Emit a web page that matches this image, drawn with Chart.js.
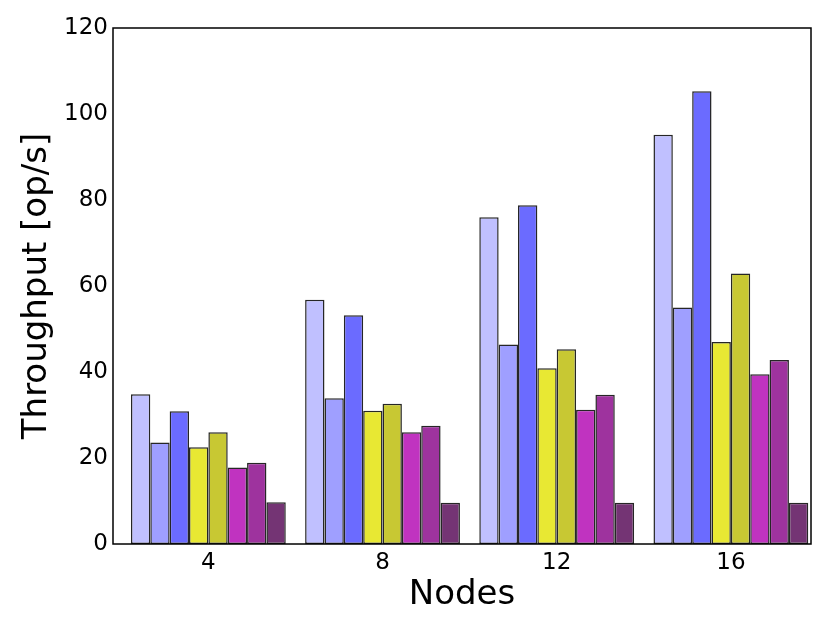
<!DOCTYPE html>
<html>
<head>
<meta charset="utf-8">
<script src="https://cdn.jsdelivr.net/npm/chart.js@4"></script>
<style>
  html, body { margin: 0; padding: 0; background: #fff; }
  #wrap { width: 830px; height: 623px; }
</style>
</head>
<body>
<div id="wrap"><canvas id="chart" width="830" height="623"></canvas></div>
<script>
// ── Data ────────────────────────────────────────────────────────────────────

const nodes = [4, 8, 12, 16];
const nodeLabels = ['4', '8', '12', '16'];
const yTicks = [0, 20, 40, 60, 80, 100, 120];

const series1 = [34.8, 56.8, 76, 95.2];
const series2 = [23.6, 33.9, 46.4, 55];
const series3 = [30.9, 53.2, 78.8, 105.3];
const series4 = [22.5, 31, 40.9, 47];
const series5 = [26, 32.6, 45.3, 62.9];
const series6 = [17.8, 26, 31.2, 39.5];
const series7 = [18.9, 27.5, 34.7, 42.8];
const series8 = [9.7, 9.6, 9.6, 9.6];

const seriesValues = [series1, series2, series3, series4, series5, series6, series7, series8];
const seriesColors = ['#c0c0ff', '#9f9fff', '#6b6bff', '#e8e833', '#c8c833', '#c033c0', '#9e339e', '#743474'];

// ── Frame around the plot area ──────────────────────────────────────────────

const framePlugin = {
  id: 'frame',
  afterDraw(c) {
    const { ctx, chartArea: a } = c;
    ctx.save();
    ctx.strokeStyle = '#000';
    ctx.lineWidth = 1.5;
    ctx.strokeRect(a.left, a.top, a.right - a.left, a.bottom - a.top);
    ctx.restore();
  }
};

// ── Chart ───────────────────────────────────────────────────────────────────

const datasets = seriesValues.map((vals, i) => ({
  label: 'S' + (i + 1),
  data: vals.map((v, j) => ({ x: nodes[j], y: v })),
  backgroundColor: seriesColors[i],
  borderColor: '#262626',
  borderWidth: 1.5,
  borderSkipped: false,
  categoryPercentage: 8 / 9,
  barPercentage: 1,
}));

new Chart(document.getElementById('chart'), {
  type: 'bar',
  data: { datasets },
  plugins: [framePlugin],
  options: {
    responsive: false,
    animation: false,
    layout: { padding: { top: 28, right: 19, left: 0, bottom: 0 } },
    plugins: { legend: { display: false }, tooltip: { enabled: false } },
    scales: {
      x: {
        type: 'linear',
        min: 1.81,
        max: 17.84,
        offset: false,
        grid: { display: false, drawTicks: false },
        border: { display: false },
        afterBuildTicks: s => { s.ticks = nodes.map(v => ({ value: v })); },
        afterFit: s => { s.height = 79; },
        ticks: {
          color: '#000',
          font: { family: 'DejaVu Sans', size: 23 },
          padding: 5,
          maxRotation: 0,
          callback: v => nodeLabels[nodes.indexOf(v)],
        },
        title: {
          display: true,
          text: 'Nodes',
          color: '#000',
          font: { family: 'DejaVu Sans', size: 34 },
          padding: { top: 0, bottom: 7 },
        },
      },
      y: {
        min: 0,
        max: 120,
        grid: { display: false, drawTicks: false },
        border: { display: false },
        afterBuildTicks: s => { s.ticks = yTicks.map(v => ({ value: v })); },
        afterFit: s => { s.width = 113; },
        ticks: {
          color: '#000',
          font: { family: 'DejaVu Sans', size: 23 },
          padding: 5,
        },
        title: {
          display: true,
          text: 'Throughput [op/s]',
          color: '#000',
          font: { family: 'DejaVu Sans', size: 34 },
          padding: { top: 17, bottom: 0 },
        },
      },
    },
  },
});
</script>
</body>
</html>
